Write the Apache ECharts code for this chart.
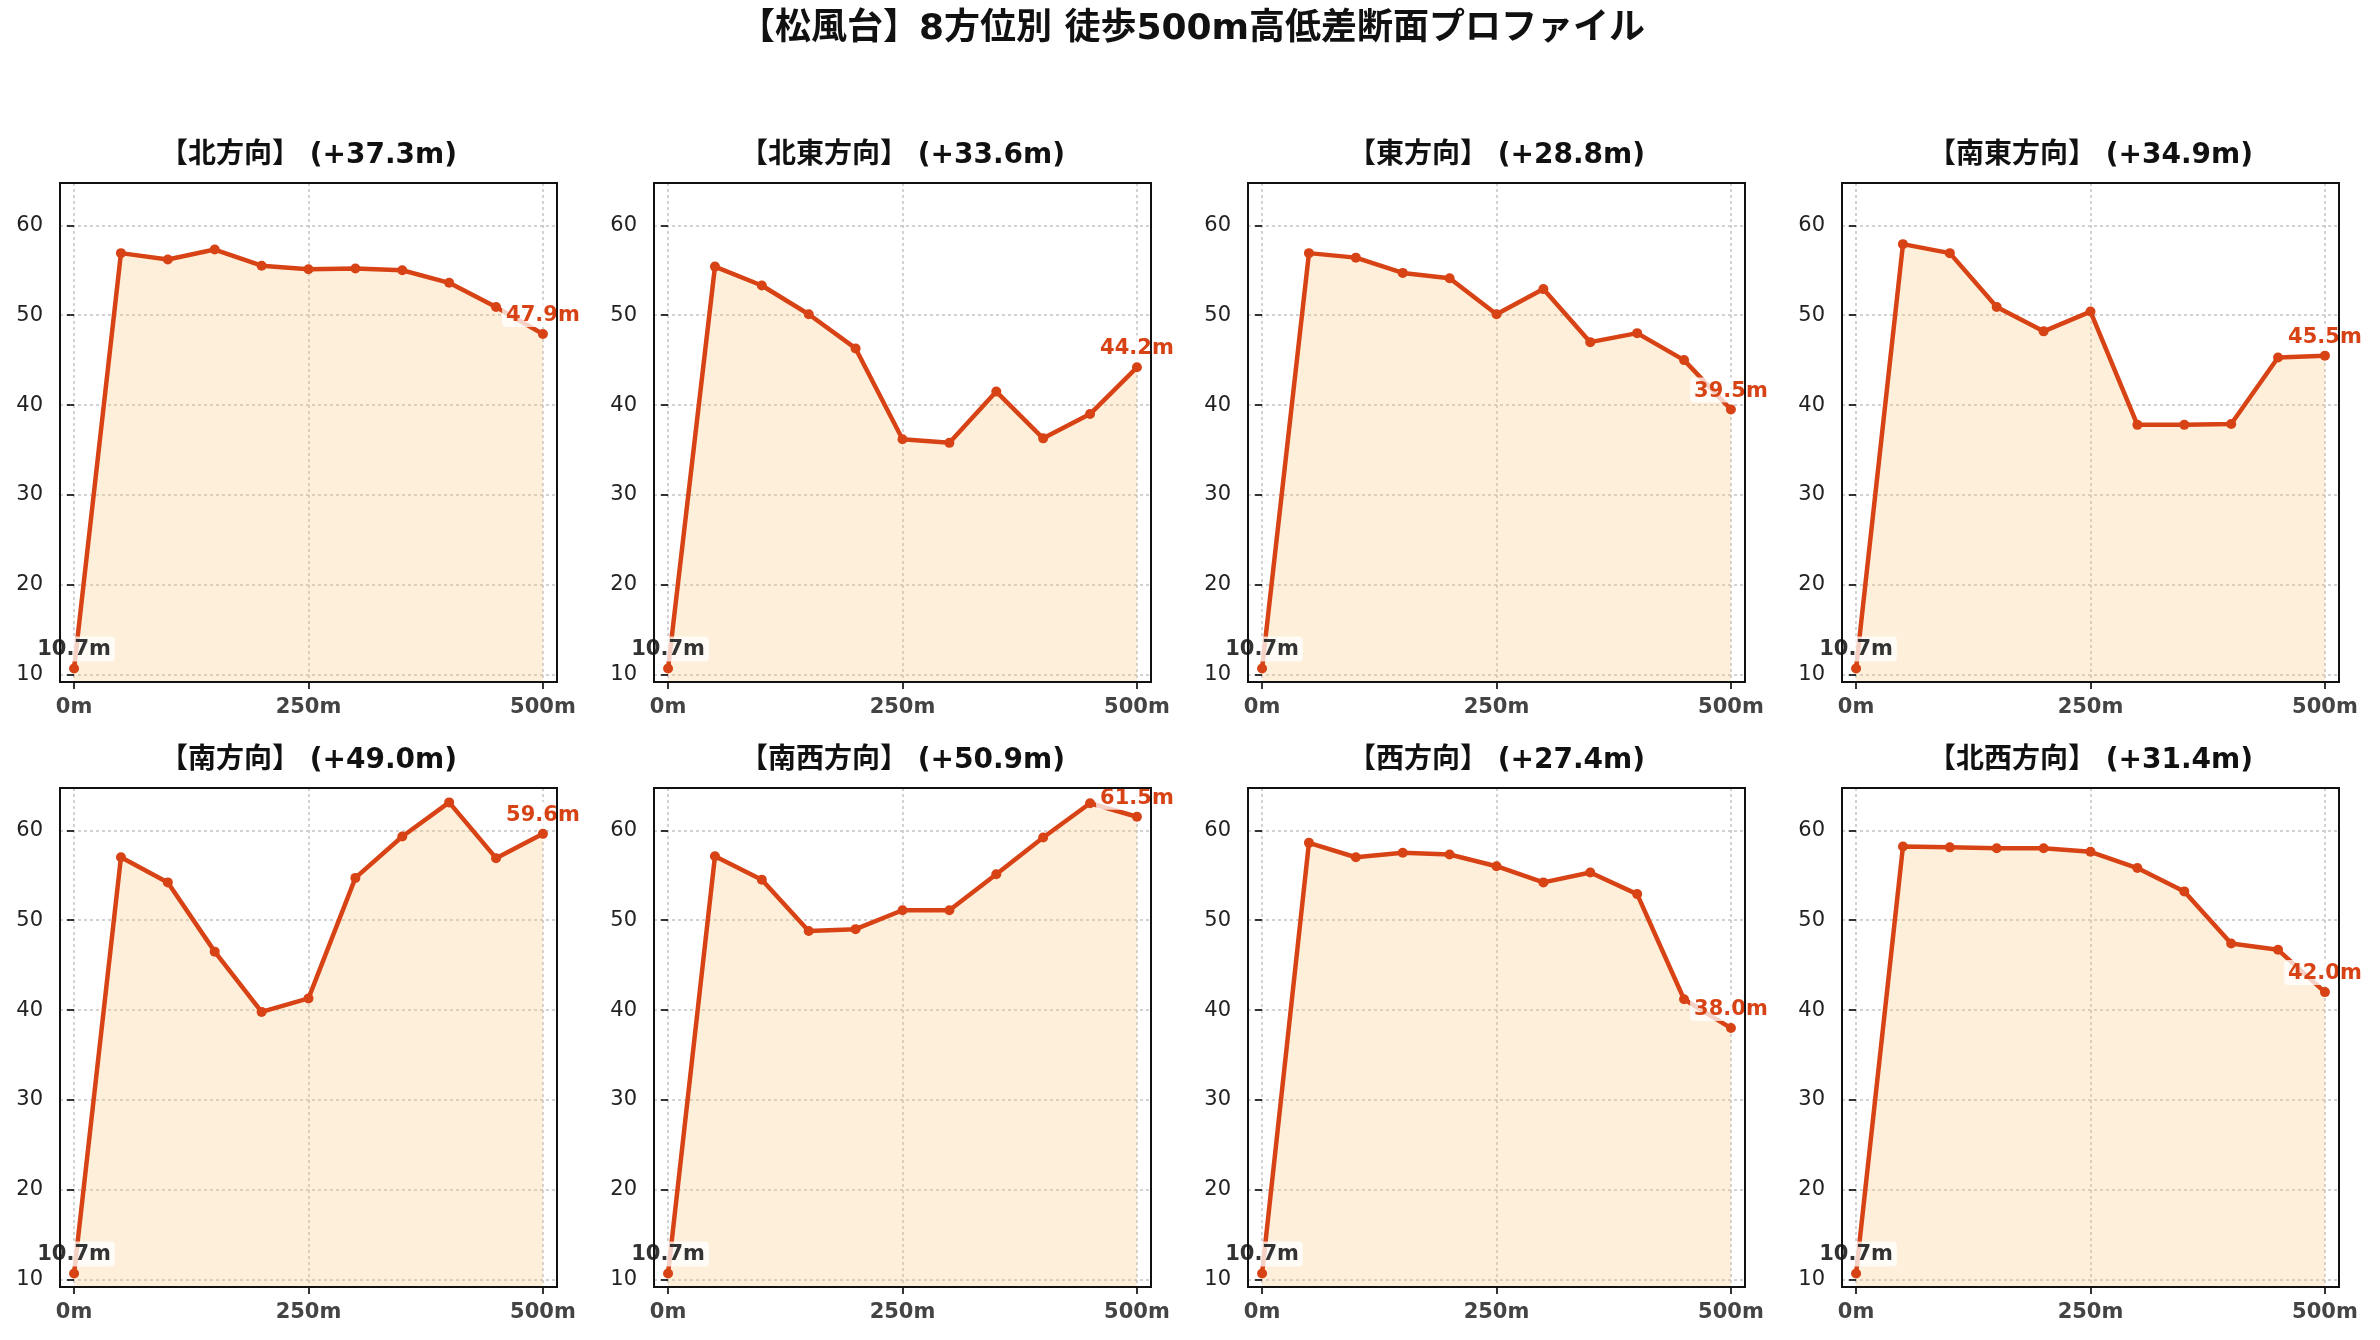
<!DOCTYPE html>
<html>
<head>
<meta charset="utf-8">
<script src="https://cdn.jsdelivr.net/npm/echarts@6.0.0/dist/echarts.min.js"></script>
<style>
html, body { margin: 0; padding: 0; background: #fff; }
#chart { width: 2380px; height: 1340px; }
</style>
</head>
<body>
<div id="chart"></div>
<script>
// distance from the station (m)
var distances = [0, 50, 100, 150, 200, 250, 300, 350, 400, 450, 500];

var directions = ['北方向', '北東方向', '東方向', '南東方向', '南方向', '南西方向', '西方向', '北西方向'];
var gains = ['+37.3', '+33.6', '+28.8', '+34.9', '+49.0', '+50.9', '+27.4', '+31.4'];

// elevation (m) along each direction
var elevN  = [10.7, 56.9, 56.2, 57.3, 55.5, 55.1, 55.2, 55.0, 53.6, 50.9, 47.9];
var elevNE = [10.7, 55.4, 53.3, 50.1, 46.3, 36.2, 35.8, 41.5, 36.3, 39.0, 44.2];
var elevE  = [10.7, 56.9, 56.4, 54.7, 54.1, 50.1, 52.9, 47.0, 48.0, 45.0, 39.5];
var elevSE = [10.7, 57.9, 56.9, 50.9, 48.2, 50.4, 37.8, 37.8, 37.9, 45.3, 45.5];
var elevS  = [10.7, 57.0, 54.2, 46.5, 39.8, 41.3, 54.7, 59.3, 63.1, 56.9, 59.6];
var elevSW = [10.7, 57.1, 54.5, 48.8, 49.0, 51.1, 51.1, 55.1, 59.2, 63.0, 61.5];
var elevW  = [10.7, 58.6, 57.0, 57.5, 57.3, 56.0, 54.2, 55.3, 52.9, 41.2, 38.0];
var elevNW = [10.7, 58.2, 58.1, 58.0, 58.0, 57.6, 55.8, 53.2, 47.4, 46.7, 42.0];
var profiles = [elevN, elevNE, elevE, elevSE, elevS, elevSW, elevW, elevNW];

// axis ranges and tick steps
var xMin = -15, xMax = 515, xTickMin = 0, xTickMax = 500, xStep = 250;
var yMin = 9.2, yMax = 64.7, yTickMin = 10, yTickMax = 60, yStep = 10;

var FONT = "'DejaVu Sans', 'Noto Sans CJK JP', sans-serif";
var LINE = '#d84315';

var chart = echarts.init(document.getElementById('chart'), null, {renderer: 'canvas'});

var gridW = 497, gridH = 499;
var colLefts = [60, 654, 1248, 1842];
var rowTops = [183, 788];

function dotted() {
    return {show: true, lineStyle: {color: '#c4c4c4', width: 1.5, type: [3, 3]}};
}
function ticks() {
    return {show: true, length: 7, lineStyle: {color: '#111', width: 1.7}};
}
function hiddenAxis(type, idx, min, max) {
    return {type: type, gridIndex: idx, min: min, max: max, show: false};
}

var titles = [{
    text: '【松風台】8方位別 徒歩500m高低差断面プロファイル',
    left: 1192, top: 12, textAlign: 'center', padding: 0,
    textStyle: {fontSize: 36, fontWeight: 'bold', color: '#111', fontFamily: FONT}
}];
var grids = [], xAxes = [], yAxes = [], series = [];

var pxPerX = gridW / (xMax - xMin);
var pxPerY = gridH / (yMax - yMin);

for (var i = 0; i < 8; i++) {
    var gx = colLefts[i % 4], gy = rowTops[Math.floor(i / 4)];
    titles.push({
        text: '【' + directions[i] + '】 (' + gains[i] + 'm)',
        left: gx + gridW / 2, top: gy - 41, textAlign: 'center', padding: 0,
        textStyle: {fontSize: 28, fontWeight: 'bold', color: '#111', fontFamily: FONT}
    });

    // frame grid: holds the data
    var g0 = grids.length;
    grids.push({
        left: gx, top: gy, width: gridW, height: gridH,
        show: true, borderColor: '#111', borderWidth: 2, backgroundColor: 'transparent', z: 10
    });
    xAxes.push(hiddenAxis('value', g0, xMin, xMax));
    yAxes.push(hiddenAxis('value', g0, yMin, yMax));

    // x tick grid: spans 0..500 of the frame
    var g1 = grids.length;
    grids.push({
        left: gx + (xTickMin - xMin) * pxPerX, top: gy,
        width: (xTickMax - xTickMin) * pxPerX, height: gridH, show: false
    });
    xAxes.push({
        type: 'value', gridIndex: g1, min: xTickMin, max: xTickMax, interval: xStep,
        axisLine: {show: false}, axisTick: ticks(),
        axisLabel: {
            formatter: function (v) { return v + 'm'; },
            fontSize: 21, fontWeight: 'bold', color: '#444', margin: 15, fontFamily: FONT,
            showMinLabel: true, showMaxLabel: true
        },
        splitLine: dotted()
    });
    yAxes.push(hiddenAxis('value', g1, yMin, yMax));

    // y tick grid: spans 10..60 of the frame
    var g2 = grids.length;
    grids.push({
        left: gx, top: gy + (yMax - yTickMax) * pxPerY,
        width: gridW, height: (yTickMax - yTickMin) * pxPerY, show: false
    });
    xAxes.push(hiddenAxis('value', g2, xMin, xMax));
    yAxes.push({
        type: 'value', gridIndex: g2, min: yTickMin, max: yTickMax, interval: yStep,
        axisLine: {show: false}, axisTick: ticks(),
        axisLabel: {fontSize: 21, color: '#222', margin: 17, fontFamily: FONT, showMinLabel: true, showMaxLabel: true},
        splitLine: dotted()
    });

    var elev = profiles[i];
    var data = elev.map(function (v, j) {
        var item = {value: [distances[j], v]};
        if (j === 0) item.label = {show: true, color: '#333'};
        if (j === elev.length - 1) item.label = {show: true, color: LINE};
        return item;
    });
    series.push({
        type: 'line', xAxisIndex: g0, yAxisIndex: g0, data: data,
        symbol: 'circle', symbolSize: 10, showAllSymbol: true, silent: true,
        lineStyle: {color: LINE, width: 4.5},
        itemStyle: {color: LINE},
        areaStyle: {color: 'rgba(250,198,125,0.4)', origin: 'start'},
        label: {
            show: false, position: 'top', distance: 2,
            fontSize: 21, fontWeight: 'bold', fontFamily: FONT,
            backgroundColor: 'rgba(255,255,255,0.75)', padding: [3, 4, 1, 4], borderRadius: 4,
            formatter: function (p) { return p.value[1].toFixed(1) + 'm'; }
        },
        z: 3
    });
}

chart.setOption({
    animation: false,
    backgroundColor: '#fff',
    title: titles,
    grid: grids,
    xAxis: xAxes,
    yAxis: yAxes,
    series: series
});
</script>
</body>
</html>
